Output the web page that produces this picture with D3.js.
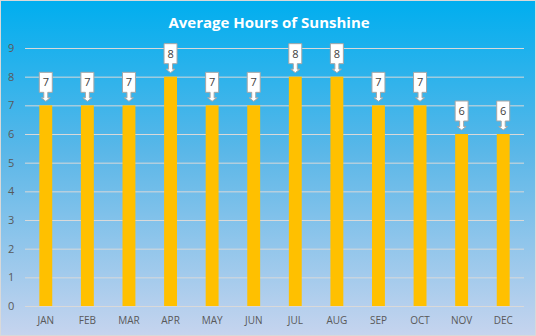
<!DOCTYPE html>
<html>
<head>
<meta charset="utf-8">
<script src="https://cdn.jsdelivr.net/npm/d3@7"></script>
<style>
  html, body { margin: 0; padding: 0; background: #fff; }
  svg { display: block; }
</style>
</head>
<body>
<svg id="chart" width="536" height="336"></svg>
<script>
// Monthly average hours of sunshine
const months = ["JAN", "FEB", "MAR", "APR", "MAY", "JUN", "JUL", "AUG", "SEP", "OCT", "NOV", "DEC"];
const hours = [7, 7, 7, 8, 7, 7, 8, 8, 7, 7, 6, 6];
const yTicks = [0, 1, 2, 3, 4, 5, 6, 7, 8, 9];
const chartTitle = "Average Hours of Sunshine";

const W = 536, H = 336;
const margin = { top: 48, right: 12, bottom: 30, left: 25 };

const svg = d3.select("#chart");

// background gradient
const defs = svg.append("defs");
const grad = defs.append("linearGradient")
  .attr("id", "bg").attr("x1", 0).attr("y1", 0).attr("x2", 0).attr("y2", 1);
grad.append("stop").attr("offset", "0%").attr("stop-color", "#00aeef");
grad.append("stop").attr("offset", "45%").attr("stop-color", "#5ab7e8");
grad.append("stop").attr("offset", "100%").attr("stop-color", "#c6d4ee");

svg.append("rect")
  .attr("x", 0.5).attr("y", 0.5).attr("width", W - 1).attr("height", H - 1)
  .attr("fill", "url(#bg)").attr("stroke", "#d9d9d9").attr("stroke-width", 1);

const x = d3.scaleBand()
  .domain(months)
  .range([margin.left, W - margin.right])
  .paddingInner(0.69).paddingOuter(0.345);

const y = d3.scaleLinear()
  .domain([0, 9])
  .range([H - margin.bottom, margin.top]);

// title
svg.append("text")
  .attr("x", 269).attr("y", 28)
  .attr("text-anchor", "middle")
  .attr("fill", "#ffffff")
  .attr("font-family", "'Open Sans', 'Liberation Sans', sans-serif")
  .attr("font-weight", "bold")
  .attr("font-size", 15)
  .text(chartTitle);

// gridlines + y axis labels
const yAxis = d3.axisLeft(y).tickValues(yTicks)
  .tickSize(-(W - margin.left - margin.right))
  .tickPadding(10);
const gy = svg.append("g")
  .attr("transform", `translate(${margin.left},0)`)
  .call(yAxis);
gy.select(".domain").remove();
gy.selectAll(".tick line").attr("stroke", "#d9d9d9").attr("stroke-width", 1);
gy.selectAll(".tick text")
  .attr("fill", "#595959")
  .attr("font-family", "'Open Sans', 'Liberation Sans', sans-serif")
  .attr("font-size", 11)
  .attr("text-anchor", "start")
  .attr("x", -17);

// x axis labels
const xAxis = d3.axisBottom(x).tickSize(0).tickPadding(11);
const gx = svg.append("g")
  .attr("transform", `translate(0,${H - margin.bottom})`)
  .call(xAxis);
gx.select(".domain").remove();
gx.selectAll(".tick text")
  .attr("fill", "#595959")
  .attr("font-family", "'Open Sans', 'Liberation Sans', sans-serif")
  .attr("font-size", 10);

// bars
const data = months.map((m, i) => ({ month: m, value: hours[i] }));
svg.append("g").selectAll("rect")
  .data(data)
  .join("rect")
  .attr("x", d => x(d.month))
  .attr("y", d => y(d.value))
  .attr("width", x.bandwidth())
  .attr("height", d => y(0) - y(d.value))
  .attr("fill", "#ffc000");

// callout labels: box with arrow pointing down to bar top
const callouts = svg.append("g").selectAll("g")
  .data(data)
  .join("g")
  .attr("transform", d => `translate(${x(d.month) + x.bandwidth() / 2},${y(d.value)})`);

const bw = 13, bh = 20, gap = 4, arrowLen = 9, stem = 2, head = 4.5;
callouts.append("path")
  .attr("d", () => {
    const top = -(gap + arrowLen + bh);
    const boxBottom = -(gap + arrowLen);
    const headTop = -(gap + 3.5);
    const tip = -gap;
    return [
      `M${-bw / 2},${top}`,
      `L${bw / 2},${top}`,
      `L${bw / 2},${boxBottom}`,
      `L${stem},${boxBottom}`,
      `L${stem},${headTop}`,
      `L${head},${headTop}`,
      `L0,${tip}`,
      `L${-head},${headTop}`,
      `L${-stem},${headTop}`,
      `L${-stem},${boxBottom}`,
      `L${-bw / 2},${boxBottom}`,
      "Z"
    ].join(" ");
  })
  .attr("fill", "#ffffff")
  .attr("stroke", "#a6a6a6")
  .attr("stroke-width", 1);

callouts.append("text")
  .attr("x", 0)
  .attr("y", -(gap + arrowLen + bh / 2) + 4)
  .attr("text-anchor", "middle")
  .attr("fill", "#404040")
  .attr("font-family", "'Open Sans', 'Liberation Sans', sans-serif")
  .attr("font-size", 11)
  .text(d => d.value);
</script>
</body>
</html>
